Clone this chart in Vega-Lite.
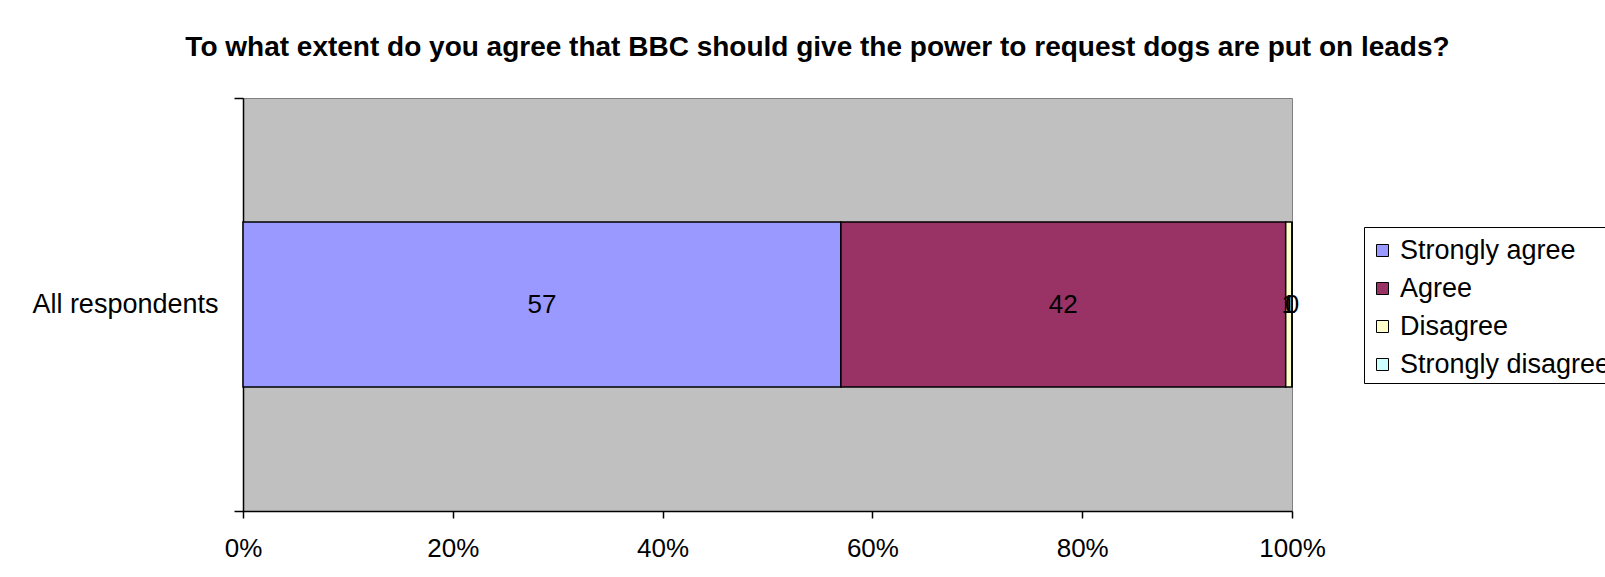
{
  "$schema": "https://vega.github.io/schema/vega-lite/v6.json",
  "width": 1049,
  "height": 413,
  "autosize": "none",
  "padding": {"left": 243, "top": 98, "right": 313, "bottom": 66},
  "background": "white",
  "title": {
    "text": "To what extent do you agree that BBC should give the power to request dogs are put on leads?",
    "font": "Liberation Sans",
    "fontSize": 28,
    "fontWeight": "bold",
    "color": "black",
    "anchor": "middle",
    "frame": "group",
    "dx": 50,
    "offset": 22
  },
  "data": {
    "values": [
      {"group": "All respondents", "response": "Strongly agree", "k": 1, "value": 57.0},
      {"group": "All respondents", "response": "Agree", "k": 2, "value": 42.4},
      {"group": "All respondents", "response": "Disagree", "k": 3, "value": 0.6},
      {"group": "All respondents", "response": "Strongly disagree", "k": 4, "value": 0.0}
    ]
  },
  "encoding": {
    "y": {
      "field": "group",
      "type": "nominal",
      "scale": {"paddingInner": 0, "paddingOuter": 0},
      "axis": {
        "title": null,
        "tickBand": "extent",
        "tickSize": 9,
        "tickColor": "black",
        "tickWidth": 1.5,
        "domainColor": "black",
        "domainWidth": 1.5,
        "labelFont": "Liberation Sans",
        "labelFontSize": 27,
        "labelColor": "black",
        "labelPadding": 16,
        "labelLimit": 400,
        "grid": false
      }
    },
    "x": {
      "field": "value",
      "type": "quantitative",
      "stack": "zero",
      "scale": {"domain": [0, 100], "nice": false},
      "axis": {
        "title": null,
        "values": [0, 20, 40, 60, 80, 100],
        "labelExpr": "datum.value + '%'",
        "labelFlush": false,
        "labelFont": "Liberation Sans",
        "labelFontSize": 26,
        "labelColor": "black",
        "labelPadding": 17,
        "tickSize": 7,
        "tickColor": "black",
        "tickWidth": 1.5,
        "domainColor": "black",
        "domainWidth": 1.5,
        "grid": false
      }
    },
    "order": {"field": "k", "type": "quantitative"}
  },
  "layer": [
    {
      "mark": {"type": "bar", "height": {"band": 0.4}, "stroke": "black", "strokeWidth": 1.5},
      "encoding": {
        "color": {
          "field": "response",
          "type": "nominal",
          "sort": ["Strongly agree", "Agree", "Disagree", "Strongly disagree"],
          "scale": {
            "domain": ["Strongly agree", "Agree", "Disagree", "Strongly disagree"],
            "range": ["#9999FF", "#993366", "#FFFFCC", "#CCFFFF"]
          },
          "legend": {
            "title": " ",
            "titleFontSize": 1,
            "titlePadding": 4,
            "orient": "none",
            "legendX": 1121,
            "legendY": 129,
            "strokeColor": "black",
            "padding": 5,
            "symbolType": "square",
            "symbolSize": 144,
            "symbolOffset": 0,
            "symbolStrokeColor": "black",
            "symbolStrokeWidth": 1,
            "labelFont": "Liberation Sans",
            "labelFontSize": 27,
            "labelColor": "black",
            "labelOffset": 4,
            "rowPadding": 10,
            "labelLimit": 400
          }
        }
      }
    },
    {
      "mark": {"type": "text", "font": "Liberation Sans", "fontSize": 26, "color": "black", "baseline": "middle"},
      "encoding": {
        "x": {"field": "value", "type": "quantitative", "stack": "zero", "bandPosition": 0.5},
        "detail": {"field": "response"},
        "text": {"field": "value", "type": "quantitative", "format": ".0f"}
      }
    }
  ],
  "config": {
    "view": {"fill": "#C0C0C0", "stroke": "#808080", "strokeWidth": 1}
  }
}
